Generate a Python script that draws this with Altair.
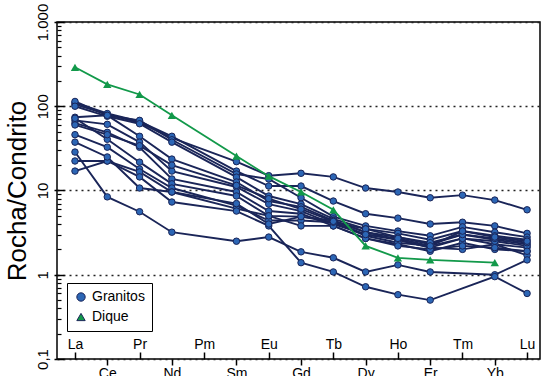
import altair as alt
import pandas as pd

elements = ["La", "Ce", "Pr", "Nd", "Pm", "Sm", "Eu", "Gd", "Tb", "Dy", "Ho", "Er", "Tm", "Yb", "Lu"]
N = None

# Granitos (normalised to chondrite)
g01 = [105, 80, 64, 42, N, 22, 15, 16, 14.5, 10.7, 9.6, 8.2, 8.8, 7.7, 5.9]
g02 = [110, 82, 66, 44, N, 17, 11.3, 11.3, 7.5, 5.3, 4.7, 4.0, 4.2, 3.8, 3.1]
g03 = [114, 78, 68, 40, N, 15.7, 13.7, 8.2, 4.9, 3.8, 3.3, 2.9, 3.7, 3.2, 2.8]
g04 = [100, 76, 62, 37.5, N, 14.4, 8.6, 6.9, 4.6, 3.5, 3.1, 2.6, 3.3, 2.9, 2.6]
g05 = [74, 78, 44, 23.6, N, 12.6, 7.5, 6.4, 4.4, 3.2, 2.8, 2.3, 3.0, 2.6, 2.3]
g06 = [68, 61, 37.5, 17, N, 11, 6.9, 5.7, 4.0, 3.0, 2.6, 2.1, 2.7, 2.3, 2.1]
g07 = [63, 49, 32.6, 13.7, N, 9.6, 5.7, 5.3, 3.8, 2.7, 2.3, 1.9, 2.4, 2.0, 1.9]
g08 = [72, 40.5, 21.7, 12, N, 8.6, 5.0, 4.9, 4.4, 3.2, 2.6, 2.1, 2.0, 2.3, 1.7]
g09 = [46, 32.7, 18, 10.7, N, 6.6, 4.4, 4.4, 4.2, 2.9, 2.4, 2.2, 2.7, 2.5, 2.2]
g10 = [17, 22.4, 16.6, 9.6, N, 6.1, 5.0, 3.8, 3.8, 2.7, 2.2, 2.0, 2.2, 2.1, 1.9]
g11 = [28.6, 8.4, 5.6, 3.2, N, 2.5, 2.8, 1.87, 1.59, 1.08, 1.31, 1.08, N, 1.0, 1.5]
g12 = [22.4, 22.4, 14.5, 7.3, N, 5.7, 3.8, 1.39, 1.08, 0.72, 0.58, 0.5, N, 0.95, 0.6]
g13 = [37.5, 25, 10.7, 9.6, N, 7.0, 4.0, 4.9, 4.2, 3.5, 2.8, 2.4, 3.0, 2.7, 2.4]
g14 = [60, 46, 34, 20, N, 11.5, 8.0, 6.0, 4.3, 3.0, 2.7, 2.2, 3.3, 2.8, 2.5]

dique = [290, 182, 138, 78, N, 25.6, 14.8, 9.6, 5.9, 2.2, 1.59, 1.5, N, 1.39, N]

granitos = [g01, g02, g03, g04, g05, g06, g07, g08, g09, g10, g11, g12, g13, g14]

rows = []
for k, vals in enumerate(granitos):
    for i, v in enumerate(vals):
        if v is not None:
            rows.append({"amostra": f"G{k+1:02d}", "grupo": "Granitos", "idx": i,
                         "elemento": elements[i], "valor": v})
for i, v in enumerate(dique):
    if v is not None:
        rows.append({"amostra": "D01", "grupo": "Dique", "idx": i,
                     "elemento": elements[i], "valor": v})
df = pd.DataFrame(rows)

W, H = 483, 337
FONT = "Liberation Sans"
NAVY = "#1a2558"
BLUE = "#2c66b5"
GREEN = "#12994a"

xscale = alt.Scale(domain=[-0.557, 14.4], nice=False, zero=False)
yscale = alt.Scale(type="log", domain=[0.1, 1000], nice=False)
names_js = "[" + ",".join(f"'{e}'" for e in elements) + "]"
lab = f"{names_js}[round(datum.value)]"

major = [0.1, 1, 10, 100, 1000]
minor = [k * 10.0 ** e for e in range(-1, 3) for k in range(2, 10)]

color_scale = alt.Scale(domain=["Granitos", "Dique"], range=[BLUE, GREEN])
shape_scale = alt.Scale(domain=["Granitos", "Dique"], range=["circle", "triangle-up"])
legend = alt.Legend(title=None, orient="none", legendX=10, legendY=261,
                    fillColor="white", strokeColor="black", padding=7,
                    labelFont=FONT, labelFontSize=14, labelColor="black",
                    symbolSize=70, rowPadding=6, symbolStrokeWidth=1)

base = alt.Chart(df)
gran = base.transform_filter(alt.datum.grupo == "Granitos")
dik = base.transform_filter(alt.datum.grupo == "Dique")

x_bottom = alt.X("idx:Q", scale=xscale, axis=alt.Axis(
    orient="bottom", values=[1, 3, 5, 7, 9, 11, 13], labelExpr=lab, domain=False, grid=False,
    tickSize=6, tickColor="black", tickWidth=1.5, labelPadding=1, labelFont=FONT,
    labelFontSize=14, labelColor="black", title=None))
x_top = alt.X("idx:Q", scale=xscale, axis=alt.Axis(
    orient="top", offset=-H, values=[0, 2, 4, 6, 8, 10, 12, 14], labelExpr=lab, domain=False,
    grid=False, tickSize=7, tickColor="black", tickWidth=1.5, labelPadding=1, labelFont=FONT,
    labelFontSize=14, labelColor="black", title=None))
x_none = alt.X("idx:Q", scale=xscale, axis=None)

y_left = alt.Y("valor:Q", scale=yscale, axis=alt.Axis(
    orient="left", values=major,
    labelExpr="datum.value >= 999 ? '1.000' : datum.value >= 99 ? '100' : datum.value >= 9 ? '10' : datum.value >= 0.9 ? '1' : '0,1'",
    domain=False, grid=True, gridDash=[2, 4], gridColor="#222", gridWidth=1.5,
    tickSize=3, tickColor="black", tickWidth=1.5, labelAngle=-90, labelAlign="center",
    labelBaseline="bottom", labelPadding=4, labelFont=FONT, labelFontSize=15,
    labelColor="black", title="Rocha/Condrito", titleFont=FONT, titleFontSize=26,
    titleFontWeight="normal", titleColor="black", titleAngle=270, titleX=-40, titleY=H / 2,
    titleAlign="center", titleBaseline="middle"))
y_major_in = alt.Y("valor:Q", scale=yscale, axis=alt.Axis(
    orient="right", offset=-W, values=major, labels=False, domain=False, grid=False,
    tickSize=7, tickColor="black", tickWidth=1.5, title=None))
y_minor_in = alt.Y("valor:Q", scale=yscale, axis=alt.Axis(
    orient="right", offset=-W, values=minor, labels=False, domain=False, grid=False,
    tickSize=4, tickColor="black", tickWidth=1.2, title=None))
y_none = alt.Y("valor:Q", scale=yscale, axis=None)

gran_lines = gran.mark_line(color=NAVY, strokeWidth=1.9).encode(
    x=x_bottom, y=y_left, detail="amostra:N", order="idx:Q")
gran_pts = gran.mark_point(filled=True, size=42, opacity=1, stroke=NAVY, strokeWidth=1).encode(
    x=x_top, y=y_major_in,
    color=alt.Color("grupo:N", scale=color_scale, legend=legend),
    shape=alt.Shape("grupo:N", scale=shape_scale, legend=legend))
dik_line = dik.mark_line(color=GREEN, strokeWidth=1.8).encode(
    x=x_none, y=y_minor_in, order="idx:Q")
dik_pts = dik.mark_point(filled=True, size=70, opacity=1).encode(
    x=x_none, y=y_none,
    color=alt.Color("grupo:N", scale=color_scale, legend=legend),
    shape=alt.Shape("grupo:N", scale=shape_scale, legend=legend))

chart = alt.layer(gran_lines, gran_pts, dik_line, dik_pts).resolve_axis(
    x="independent", y="independent"
).properties(
    width=W, height=H,
    autosize=alt.AutoSizeParams(type="none"),
    padding={"left": 57, "top": 22, "right": 5, "bottom": 17},
    background="white",
).configure_view(stroke="black", strokeWidth=1.5)

chart.save("out.html", embed_options={"renderer": "svg", "actions": False})
